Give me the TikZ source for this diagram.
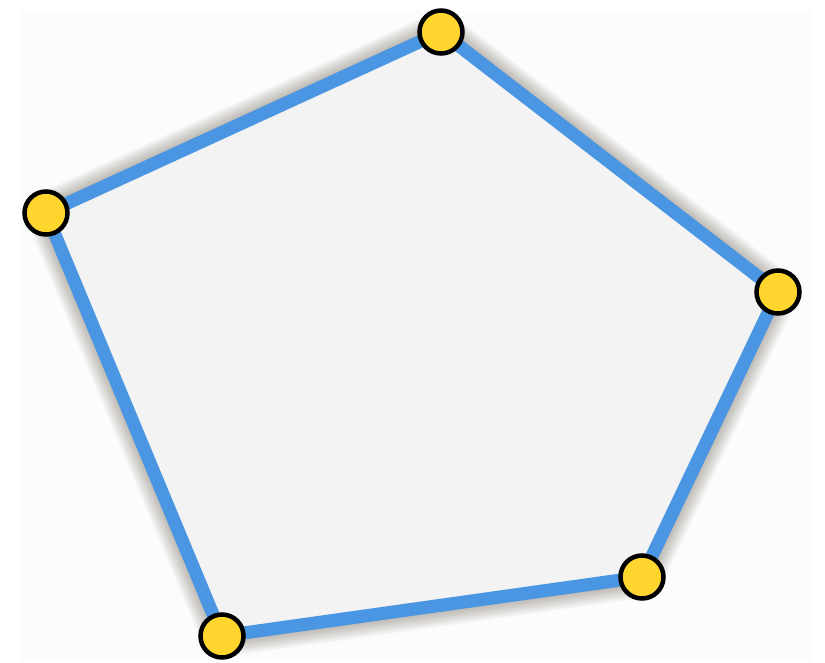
\documentclass[tikz,border=0pt]{standalone}
\definecolor{edgeblue}{HTML}{4A96E2}
\definecolor{vyellow}{HTML}{FFD52E}
\definecolor{polyfill}{HTML}{F3F3F4}
\definecolor{bgpale}{HTML}{FBFCFD}
\definecolor{shadowtint}{HTML}{5A4A3A}
\tikzset{
  vertexdot/.style={circle, draw=black, line width=4.5pt, fill=vyellow, minimum size=43pt, inner sep=0pt},
  polyedge/.style={draw=edgeblue, line width=13pt, line join=miter, fill=polyfill},
  shadowring/.style={draw=shadowtint, fill=shadowtint, line join=round, opacity=0.04}
}
\begin{document}
\begin{tikzpicture}[x=1pt,y=-1pt]
\useasboundingbox (0,0) rectangle (825,662);
\fill[bgpale] (20,10) rectangle (812,662);
\coordinate (A) at (441,32);
\coordinate (B) at (778,292);
\coordinate (C) at (642,577);
\coordinate (D) at (222,636);
\coordinate (E) at (46,213);
\begin{scope}[shift={(0,7)}]
\foreach \w in {42,39,36,33,30,27,24,21,18,15,13,13}{
  \path[shadowring, line width=\w pt] (A) -- (B) -- (C) -- (D) -- (E) -- cycle;
}
\end{scope}
\path[polyedge] (A) -- (B) -- (C) -- (D) -- (E) -- cycle;
\node[vertexdot] (nA) at (A) {};
\node[vertexdot] (nB) at (B) {};
\node[vertexdot] (nC) at (C) {};
\node[vertexdot] (nD) at (D) {};
\node[vertexdot] (nE) at (E) {};
\end{tikzpicture}
\end{document}
